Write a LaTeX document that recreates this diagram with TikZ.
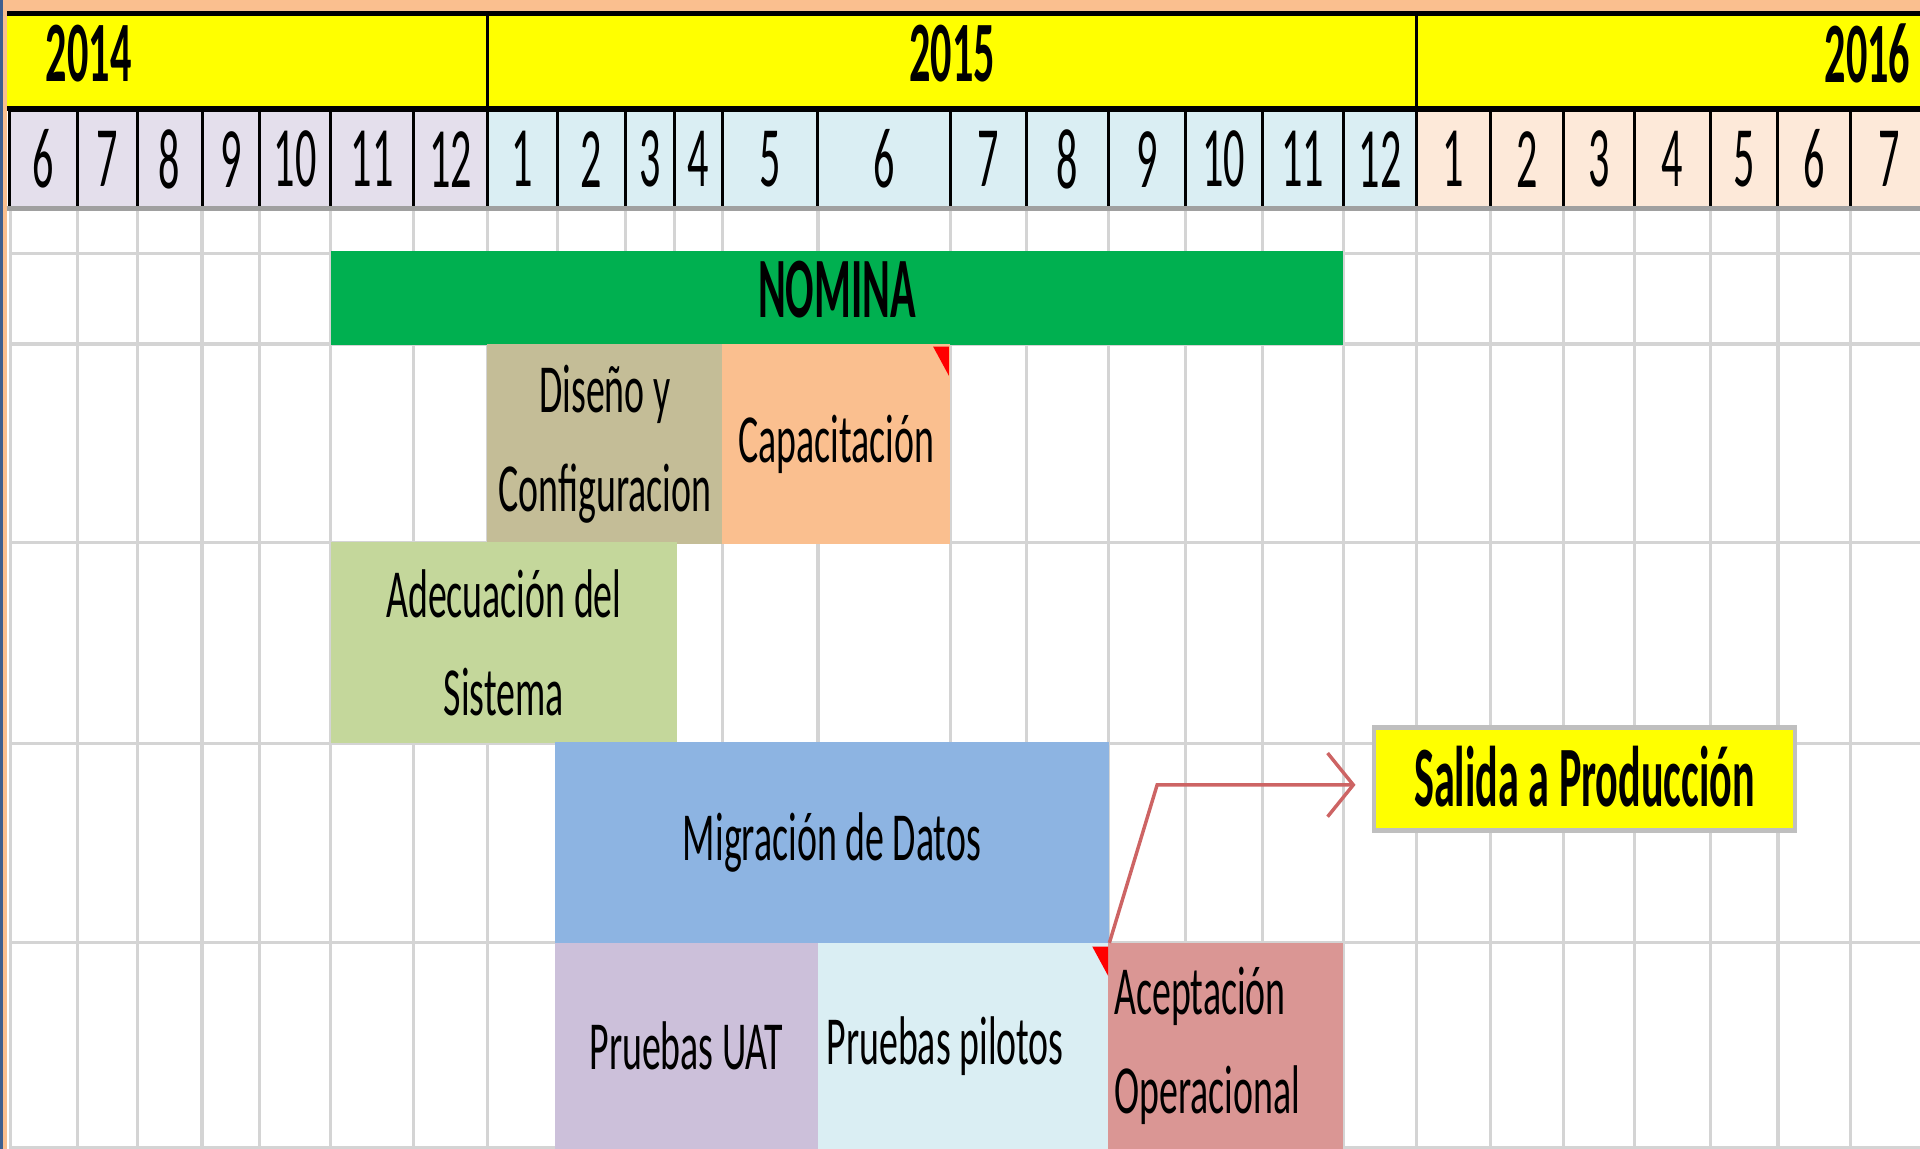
\documentclass[tikz,border=0pt]{standalone}
\usepackage{fontspec}
\usepackage{xcolor}
\usepackage{tikz}
\usetikzlibrary{arrows.meta,calc,positioning}
\newfontfamily\barfont[FakeStretch=0.55]{Carlito}
\newfontfamily\headfont[FakeStretch=0.49]{Carlito}
\definecolor{durazno}{HTML}{FABF8F}
\definecolor{amarillo}{HTML}{FFFF00}
\definecolor{mes14}{HTML}{E4DFEC}
\definecolor{mes15}{HTML}{DAEEF3}
\definecolor{mes16}{HTML}{FDE9D9}
\definecolor{nomverde}{HTML}{00B050}
\definecolor{tostado}{HTML}{C4BD97}
\definecolor{oliva}{HTML}{C4D79B}
\definecolor{azulmig}{HTML}{8DB4E2}
\definecolor{lila}{HTML}{CCC0DA}
\definecolor{rosa}{HTML}{DA9694}
\definecolor{rejillagris}{HTML}{D4D4D4}
\definecolor{gristope}{HTML}{A0A0A0}
\definecolor{bordegris}{HTML}{BFBFBF}
\definecolor{rojoflecha}{HTML}{CD6464}
\definecolor{marco}{HTML}{3F5F8F}
\tikzset{
  mes/.style={draw=black, line width=0.7pt, anchor=north west, inner sep=0pt, outer sep=0pt,
    minimum height=8mm, font=\headfont\fontsize{20}{24}\selectfont},
  anio/.style={fill=amarillo, anchor=north west, inner sep=0pt, outer sep=0pt,
    minimum height=7.6mm, text depth=1.3mm, font=\headfont\bfseries\fontsize{20}{24}\selectfont},
  barra/.style={anchor=north west, inner sep=0pt, outer sep=0pt, align=center,
    font=\barfont\fontsize{16}{23}\selectfont},
  negrita/.style={font=\headfont\bfseries\fontsize{20}{24}\selectfont},
  rejilla/.style={draw=rejillagris, line width=0.75pt},
  negro/.style={line width=1.2pt},
  salidabox/.style={draw=bordegris, line width=1.1pt, fill=amarillo, anchor=north west,
    inner sep=0pt, outer sep=0pt, minimum width=34.4mm, minimum height=8.4mm, text height=12.9pt},
  flecha/.style={draw=rojoflecha, line width=0.8pt, shorten >=1.5mm,
    -{Straight Barb[length=2.1mm, width=5.2mm]}},
  marca/.style={fill=red}
}

\begin{document}
\begin{tikzpicture}[x=0.1mm, y=-0.1mm]
  \useasboundingbox (0,0) rectangle (1568,938);
  \fill[white] (0,0) rectangle (1568,938);
  \fill[durazno] (0,0) rectangle (1568,10);
  \fill[marco] (0,0) rectangle (2.2,938);
  \fill[durazno] (2.2,0) rectangle (6,938);

  % grid of the sheet
  \foreach \x in {8.6,63,112,165,212,270,338,398,455,511,551,590,668,776,838,905,968,1031,1097,1157,1217,1277,1335,1397,1452,1511}
    \draw[rejilla] (\x,172) -- (\x,938);
  \foreach \y in {207,281,443,607,770,937}
    \draw[rejilla] (7,\y) -- (1568,\y);

  % years
  \node[anio, minimum width=39.2mm, text width=32.9mm, align=left, inner xsep=3.1mm] (a2014) at (6,12) {2014};
  \node[anio, minimum width=75.9mm] (a2015) at (398,12) {2015};
  \node[anio, minimum width=41.1mm, text width=39.5mm, align=right, inner xsep=0.8mm] (a2016) at (1157,12) {2016};

  % months
  \node[mes, fill=mes14, minimum width=5.5mm] (m146) at (8,90) {6};
  \node[mes, fill=mes14, minimum width=4.9mm] (m147) at (63,90) {7};
  \node[mes, fill=mes14, minimum width=5.3mm] (m148) at (112,90) {8};
  \node[mes, fill=mes14, minimum width=4.7mm] (m149) at (165,90) {9};
  \node[mes, fill=mes14, minimum width=5.8mm] (m1410) at (212,90) {10};
  \node[mes, fill=mes14, minimum width=6.8mm] (m1411) at (270,90) {11};
  \node[mes, fill=mes14, minimum width=6.0mm] (m1412) at (338,90) {12};
  \node[mes, fill=mes15, minimum width=5.7mm] (m151) at (398,90) {1};
  \node[mes, fill=mes15, minimum width=5.6mm] (m152) at (455,90) {2};
  \node[mes, fill=mes15, minimum width=4.0mm] (m153) at (511,90) {3};
  \node[mes, fill=mes15, minimum width=3.9mm] (m154) at (551,90) {4};
  \node[mes, fill=mes15, minimum width=7.8mm] (m155) at (590,90) {5};
  \node[mes, fill=mes15, minimum width=10.8mm] (m156) at (668,90) {6};
  \node[mes, fill=mes15, minimum width=6.2mm] (m157) at (776,90) {7};
  \node[mes, fill=mes15, minimum width=6.7mm] (m158) at (838,90) {8};
  \node[mes, fill=mes15, minimum width=6.3mm] (m159) at (905,90) {9};
  \node[mes, fill=mes15, minimum width=6.3mm] (m1510) at (968,90) {10};
  \node[mes, fill=mes15, minimum width=6.6mm] (m1511) at (1031,90) {11};
  \node[mes, fill=mes15, minimum width=6.0mm] (m1512) at (1097,90) {12};
  \node[mes, fill=mes16, minimum width=6.0mm] (m161) at (1157,90) {1};
  \node[mes, fill=mes16, minimum width=6.0mm] (m162) at (1217,90) {2};
  \node[mes, fill=mes16, minimum width=5.8mm] (m163) at (1277,90) {3};
  \node[mes, fill=mes16, minimum width=6.2mm] (m164) at (1335,90) {4};
  \node[mes, fill=mes16, minimum width=5.5mm] (m165) at (1397,90) {5};
  \node[mes, fill=mes16, minimum width=5.9mm] (m166) at (1452,90) {6};
  \node[mes, fill=mes16, minimum width=6.4mm] (m167) at (1511,90) {7};

  \draw[negro] (6,11) -- (1568,11);
  \draw[negro] (6,88.5) -- (1568,88.5);
  \draw[line width=0.8pt] (a2015.north west) -- (a2015.south west);
  \draw[line width=0.8pt] (a2016.north west) -- (a2016.south west);
  \draw[gristope, line width=1.1pt] (6,170) -- (1568,170);

  % tasks
  \node[barra, negrita, fill=nomverde, minimum width=82.7mm, minimum height=7.7mm, text depth=1.5mm] (nomina) at (270,205) {NOMINA};
  \node[barra, fill=tostado, minimum width=19.2mm, minimum height=16.3mm] (diseno) at (398,281) {Diseño y\\Configuracion};
  \node[barra, fill=durazno, minimum width=18.6mm, minimum height=16.3mm] (capa) at (590,281) {Capacitación};
  \node[barra, fill=oliva, minimum width=28.3mm, minimum height=16.4mm] (adecua) at (270,443) {Adecuación del\\Sistema};
  \node[barra, fill=azulmig, minimum width=45.3mm, minimum height=16.4mm] (migra) at (453,606) {Migración de Datos};
  \node[barra, fill=lila, minimum width=21.5mm, minimum height=16.8mm] (uat) at (453,770) {Pruebas UAT};
  \node[barra, fill=mes15, text width=22.3mm, inner xsep=0.7mm, align=flush left, minimum height=16.8mm] (pilotos) at (668,770) {Pruebas pilotos};
  \node[barra, fill=rosa, text width=18.2mm, inner xsep=0.5mm, align=flush left, minimum height=16.8mm] (acepta) at (905,770) {Aceptación\\Operacional};

  % comment marks
  \fill[marca] ($(capa.north east)+(-14,2)$) -- ($(capa.north east)+(-1,2)$) -- ($(capa.north east)+(-1,26)$) -- cycle;
  \fill[marca] ($(pilotos.north east)+(-13,3)$) -- ($(pilotos.north east)+(0,3)$) -- ($(pilotos.north east)+(0,27)$) -- cycle;

  \node[salidabox, negrita] (salida) at (1122,594) {Salida a Producción};
  \coordinate (codo) at (945,641);
  \draw[flecha] (migra.south east) -- (codo) -- (codo -| salida.west);
\end{tikzpicture}
\end{document}
